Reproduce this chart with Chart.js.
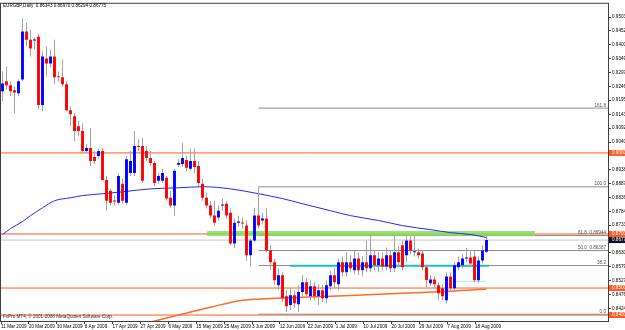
<!DOCTYPE html>
<html>
<head>
<meta charset="utf-8">
<title>EURGBP Daily</title>
<script src="https://cdn.jsdelivr.net/npm/chart.js@4.4.1/dist/chart.umd.min.js"></script>
<style>
  html, body { margin: 0; padding: 0; background: #fff; }
  canvas { display: block; }
</style>
</head>
<body>
<canvas id="myChart" width="625" height="330"></canvas>
<script>
const symbol = "EURGBP,Daily";
const copyright = "FxPro MT4, \u00a9 2001-2008 MetaQuotes Software Corp.";

const dateLabels = ["11 Mar 2009", "20 Mar 2009", "30 Mar 2009", "8 Apr 2009", "17 Apr 2009", "27 Apr 2009",
  "6 May 2009", "15 May 2009", "25 May 2009", "3 Jun 2009", "12 Jun 2009", "22 Jun 2009", "1 Jul 2009",
  "10 Jul 2009", "20 Jul 2009", "29 Jul 2009", "7 Aug 2009", "18 Aug 2009"];

const opens = [
  0.9228, 0.9265, 0.9250, 0.9232, 0.9221, 0.9272, 0.9449, 0.9419, 0.9416, 0.9430,
  0.9177, 0.9349, 0.9331, 0.9357, 0.9283, 0.9280, 0.9254, 0.9158, 0.9136, 0.9099,
  0.9081, 0.9007, 0.9018, 0.8985, 0.8989, 0.9007, 0.8900, 0.8860, 0.8823, 0.8816,
  0.8886, 0.8816, 0.8926, 0.8926, 0.9026, 0.9026, 0.9007, 0.8981, 0.8963, 0.8897,
  0.8897, 0.8908, 0.8834, 0.8805, 0.8956, 0.8959, 0.8974, 0.8941, 0.8970, 0.8952,
  0.8886, 0.8834, 0.8805, 0.8768, 0.8761, 0.8805, 0.8812, 0.8779, 0.8665, 0.8742,
  0.8742, 0.8731, 0.8621, 0.8676, 0.8768, 0.8750, 0.8757, 0.8639, 0.8595, 0.8510,
  0.8547, 0.8470, 0.8437, 0.8473, 0.8440, 0.8485, 0.8521, 0.8470, 0.8507, 0.8470,
  0.8492, 0.8462, 0.8507, 0.8547, 0.8514, 0.8595, 0.8558, 0.8595, 0.8566, 0.8609,
  0.8566, 0.8595, 0.8573, 0.8621, 0.8584, 0.8609, 0.8580, 0.8621, 0.8573, 0.8632,
  0.8658, 0.8621, 0.8676, 0.8632, 0.8632, 0.8628, 0.8577, 0.8518, 0.8532, 0.8510,
  0.8499, 0.8455, 0.8543, 0.8499, 0.8577, 0.8584, 0.8609, 0.8613, 0.8617, 0.8529,
  0.8602, 0.86343
];
const highs = [
  0.9302, 0.9320, 0.9265, 0.9246, 0.9272, 0.9497, 0.9482, 0.9456, 0.9427, 0.9441,
  0.9375, 0.9394, 0.9383, 0.9419, 0.9302, 0.9346, 0.9265, 0.9173, 0.9147, 0.9118,
  0.9110, 0.9033, 0.9092, 0.9007, 0.9015, 0.9018, 0.8915, 0.8867, 0.8842, 0.8926,
  0.8904, 0.8989, 0.9007, 0.9081, 0.9051, 0.9055, 0.9026, 0.9007, 0.8970, 0.8926,
  0.8941, 0.8915, 0.8860, 0.8941, 0.8977, 0.9037, 0.8989, 0.9015, 0.9015, 0.8970,
  0.8904, 0.8853, 0.8823, 0.8823, 0.8805, 0.8831, 0.8823, 0.8794, 0.8757, 0.8768,
  0.8761, 0.8750, 0.8683, 0.8797, 0.8875, 0.8779, 0.8794, 0.8658, 0.8609, 0.8573,
  0.8558, 0.8492, 0.8499, 0.8492, 0.8510, 0.8547, 0.8536, 0.8529, 0.8521, 0.8514,
  0.8510, 0.8529, 0.8566, 0.8573, 0.8609, 0.8617, 0.8632, 0.8621, 0.8639, 0.8632,
  0.8617, 0.8676, 0.8702, 0.8639, 0.8632, 0.8632, 0.8650, 0.8639, 0.8694, 0.8654,
  0.8676, 0.8694, 0.8691, 0.8694, 0.8647, 0.8639, 0.8584, 0.8547, 0.8543, 0.8521,
  0.8514, 0.8558, 0.8558, 0.8595, 0.8617, 0.8625, 0.8647, 0.8639, 0.8639, 0.8617,
  0.8658, 0.86970
];
const lows = [
  0.9191, 0.9235, 0.9210, 0.9147, 0.9210, 0.9265, 0.9394, 0.9357, 0.9383, 0.9162,
  0.9154, 0.9283, 0.9316, 0.9254, 0.9265, 0.9246, 0.9154, 0.9099, 0.9044, 0.9062,
  0.9000, 0.9000, 0.8952, 0.8959, 0.8977, 0.8897, 0.8786, 0.8805, 0.8805, 0.8809,
  0.8812, 0.8809, 0.8915, 0.8915, 0.9007, 0.8889, 0.8970, 0.8952, 0.8878, 0.8886,
  0.8889, 0.8823, 0.8797, 0.8768, 0.8948, 0.8948, 0.8934, 0.8934, 0.8926, 0.8878,
  0.8823, 0.8794, 0.8757, 0.8731, 0.8750, 0.8786, 0.8757, 0.8658, 0.8647, 0.8727,
  0.8720, 0.8602, 0.8580, 0.8669, 0.8720, 0.8735, 0.8632, 0.8566, 0.8510, 0.8492,
  0.8448, 0.8411, 0.8418, 0.8426, 0.8411, 0.8470, 0.8462, 0.8455, 0.8455, 0.8437,
  0.8448, 0.8444, 0.8492, 0.8499, 0.8492, 0.8543, 0.8543, 0.8558, 0.8551, 0.8547,
  0.8543, 0.8558, 0.8558, 0.8566, 0.8558, 0.8566, 0.8566, 0.8558, 0.8558, 0.8580,
  0.8566, 0.8595, 0.8625, 0.8617, 0.8609, 0.8566, 0.8503, 0.8507, 0.8499, 0.8455,
  0.8455, 0.8444, 0.8485, 0.8492, 0.8566, 0.8573, 0.8595, 0.8580, 0.8521, 0.8518,
  0.8591, 0.86294
];
const closes = [
  0.9257, 0.9250, 0.9228, 0.9224, 0.9265, 0.9449, 0.9419, 0.9386, 0.9419, 0.9177,
  0.9357, 0.9331, 0.9357, 0.9280, 0.9280, 0.9254, 0.9158, 0.9143, 0.9081, 0.9081,
  0.9007, 0.9018, 0.8970, 0.8970, 0.9007, 0.8900, 0.8823, 0.8816, 0.8820, 0.8915,
  0.8823, 0.8977, 0.8970, 0.9026, 0.9022, 0.8897, 0.8981, 0.8963, 0.8889, 0.8915,
  0.8926, 0.8831, 0.8805, 0.8934, 0.8963, 0.8981, 0.8945, 0.8970, 0.8948, 0.8889,
  0.8834, 0.8805, 0.8768, 0.8742, 0.8786, 0.8809, 0.8768, 0.8665, 0.8742, 0.8746,
  0.8739, 0.8621, 0.8676, 0.8768, 0.8731, 0.8757, 0.8639, 0.8595, 0.8529, 0.8547,
  0.8462, 0.8433, 0.8473, 0.8444, 0.8485, 0.8521, 0.8477, 0.8507, 0.8470, 0.8492,
  0.8462, 0.8510, 0.8547, 0.8521, 0.8595, 0.8558, 0.8595, 0.8573, 0.8609, 0.8566,
  0.8595, 0.8573, 0.8621, 0.8584, 0.8609, 0.8580, 0.8621, 0.8573, 0.8632, 0.8595,
  0.8577, 0.8676, 0.8639, 0.8636, 0.8621, 0.8577, 0.8529, 0.8532, 0.8514, 0.8481,
  0.8470, 0.8543, 0.8499, 0.8584, 0.8595, 0.8609, 0.8613, 0.8591, 0.8529, 0.8602,
  0.8639, 0.86775
];

// moving averages, read at a few bars
const blueMaBars = [0, 2, 5, 7, 10, 13, 17, 20, 25, 30, 37, 44, 50, 57, 64, 70, 75, 82, 87, 94, 100, 107, 112, 117, 121];
const blueMa = [0.8698, 0.8720, 0.8746, 0.8768, 0.8797, 0.8823, 0.8834, 0.8842, 0.8849, 0.8856, 0.8867, 0.8871, 0.8875,
  0.8867, 0.8849, 0.8831, 0.8812, 0.8786, 0.8768, 0.8750, 0.8731, 0.8716, 0.8705, 0.8698, 0.8687];
const orangeMaBars = [29, 37, 44, 52, 60, 67, 75, 87, 100, 112, 121];
const orangeMa = [0.8345, 0.8374, 0.8400, 0.8429, 0.8455, 0.8461, 0.8466, 0.8472, 0.8481, 0.8488, 0.8496];

const priceTicks = [0.95030, 0.94520, 0.94000, 0.93490, 0.92970, 0.92460, 0.91950, 0.91430, 0.90920, 0.90400,
  0.89380, 0.88870, 0.88360, 0.87840, 0.87330, 0.86300, 0.85790, 0.85270, 0.84760, 0.84240];

const levelPrices = [0.9000, 0.8700, 0.8500, 0.8400];
const fibLow = 0.8403, fibHigh = 0.88745, fibStartBar = 64;
const fibLevels = [0, 38.2, 50, 61.8, 100, 161.8];
const fibShowPrice = [false, false, true, true, false, false];
const zonePrice = 0.8702, zoneBars = [51.1, 133.1];
const supportPrice = 0.8582, supportBars = [71.9, 121.6];
const lowLinePrice = 0.8525, lowLineBars = [112.4, 120.9];
const bidPrice = closes[closes.length - 1];

const X0 = -0.375, X1 = 151.375;
const FONT = "'Liberation Sans', Arial, sans-serif";
const fibPrice = (lv) => fibLow + (fibHigh - fibLow) * lv / 100;

function hline(price, from, to, color, width, order) {
  return {
    type: "line",
    data: [{ x: from, y: price }, { x: to, y: price }],
    borderColor: color,
    borderWidth: width,
    pointRadius: 0,
    fill: false,
    order: order,
  };
}

const datasets = [];
levelPrices.forEach((p) => datasets.push(hline(p, X0, X1, "#ff5a22", 1, 20)));
fibLevels.forEach((lv) => datasets.push(hline(fibPrice(lv), fibStartBar, X1, "#8c8c8c", 1, 19)));
datasets.push(hline(zonePrice, zoneBars[0], zoneBars[1], "rgba(125,222,85,0.8)", 5, 18));
datasets.push(hline(supportPrice, supportBars[0], supportBars[1], "#24bcbc", 2, 17));
datasets.push(hline(lowLinePrice, lowLineBars[0], lowLineBars[1], "#a6eeee", 1, 17));
datasets.push(hline(bidPrice, X0, X1, "#c8c8c8", 1, 16));

datasets.push({
  type: "line",
  data: blueMaBars.map((b, k) => ({ x: b, y: blueMa[k] })),
  borderColor: "#2424ff",
  borderWidth: 1,
  pointRadius: 0,
  cubicInterpolationMode: "monotone",
  order: 5,
});
datasets.push({
  type: "line",
  data: orangeMaBars.map((b, k) => ({ x: b, y: orangeMa[k] })),
  borderColor: "#ff6a2a",
  borderWidth: 1.5,
  pointRadius: 0,
  cubicInterpolationMode: "monotone",
  order: 5,
});

// candles: wick bars + body bars
datasets.push({
  type: "bar",
  data: opens.map((o, i) => ({ x: i, y: [lows[i], highs[i]] })),
  backgroundColor: "#a4a4a4",
  borderWidth: 0,
  grouped: false,
  maxBarThickness: 1,
  order: 2,
});
datasets.push({
  type: "bar",
  data: opens.map((o, i) => ({ x: i, y: [o, closes[i]] })),
  backgroundColor: opens.map((o, i) => (closes[i] >= o ? "#0000ff" : "#ff0000")),
  borderWidth: 0,
  grouped: false,
  maxBarThickness: 3,
  minBarLength: 1,
  order: 1,
});

const mtDecor = {
  id: "mtDecor",
  afterDraw(chart) {
    const { ctx, chartArea: a, scales: { y } } = chart;
    ctx.save();
    ctx.strokeStyle = "#404040";
    ctx.lineWidth = 1;
    ctx.strokeRect(a.left - 0.5, a.top - 0.5, a.right - a.left + 1, a.bottom - a.top + 1);

    ctx.font = "4.6px " + FONT;
    ctx.textBaseline = "middle";
    ctx.textAlign = "left";
    ctx.fillStyle = "#000";
    const n = closes.length - 1;
    const ohlc = [opens[n], highs[n], lows[n], closes[n]].map((v) => v.toFixed(5)).join(" ");
    ctx.fillText(symbol + "  " + ohlc, 3, 5.5);
    ctx.fillStyle = "#303030";
    ctx.fillText(copyright, 3, a.bottom - 4);

    // fibo labels
    ctx.textAlign = "right";
    ctx.textBaseline = "bottom";
    ctx.fillStyle = "#505050";
    fibLevels.forEach((lv, k) => {
      const p = fibPrice(lv);
      let t = lv.toFixed(1);
      if (fibShowPrice[k]) t += "  " + p.toFixed(5);
      ctx.fillText(t, a.right - 2, y.getPixelForValue(p) - 0.5);
    });

    // price boxes on the axis
    ctx.textAlign = "left";
    ctx.textBaseline = "middle";
    const box = (p, bg) => {
      const yy = y.getPixelForValue(p);
      ctx.fillStyle = bg;
      ctx.fillRect(a.right + 1, yy - 3, 20, 6);
      ctx.fillStyle = "#fff";
      ctx.fillText(p.toFixed(5), a.right + 4, yy);
    };
    levelPrices.forEach((p) => box(p, "#ff5a22"));
    box(bidPrice, "#10102a");
    ctx.restore();
  },
};

const ctx = document.getElementById("myChart").getContext("2d");
const myChart = new Chart(ctx, {
  type: "bar",
  data: { datasets: datasets },
  options: {
    responsive: false,
    animation: false,
    devicePixelRatio: 1,
    events: [],
    layout: { padding: { left: 1, top: 2, right: 0, bottom: 0 } },
    plugins: { legend: { display: false }, tooltip: { enabled: false } },
    scales: {
      x: {
        type: "linear",
        min: X0,
        max: X1,
        offset: false,
        afterBuildTicks: (s) => {
          s.ticks = dateLabels.map((d, k) => ({ value: k * 6.97 - 0.35 }));
        },
        afterFit: (s) => { s.height = 9; },
        ticks: {
          align: "start",
          autoSkip: false,
          maxRotation: 0,
          padding: 0,
          color: "#000",
          font: { family: FONT, size: 4.6 },
          callback: (v, idx) => dateLabels[idx],
        },
        grid: { drawOnChartArea: false, tickLength: 3, color: "#404040", offset: false },
        border: { color: "#404040" },
      },
      y: {
        type: "linear",
        position: "right",
        min: 0.8378,
        max: 0.9552,
        afterBuildTicks: (s) => {
          s.ticks = priceTicks.map((v) => ({ value: v }));
        },
        afterFit: (s) => { s.width = 17; },
        ticks: {
          autoSkip: false,
          padding: 1,
          color: "#000",
          font: { family: FONT, size: 4.6 },
          callback: (v) => Number(v).toFixed(5),
        },
        grid: { drawOnChartArea: false, tickLength: 3, color: "#404040" },
        border: { color: "#404040" },
      },
    },
  },
  plugins: [mtDecor],
});
</script>
</body>
</html>
